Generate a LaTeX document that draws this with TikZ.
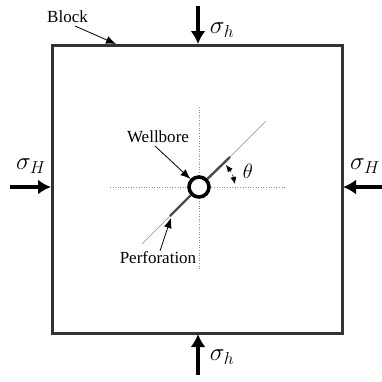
\documentclass[tikz,border=0pt]{standalone}
\usepackage{fontspec}
\setmainfont{Liberation Serif}
\usetikzlibrary{arrows.meta}

\begin{document}
\begin{tikzpicture}[x=1pt,y=-1pt,>=Latex,
 blockbox/.style={draw=black!80,line width=3pt,minimum width=290pt,minimum height=288pt,inner sep=0pt},
 bore/.style={circle,draw=black,line width=3.6pt,minimum size=20pt,inner sep=0pt},
 load/.style={-{Latex[length=13pt,width=15pt]},line width=3.4pt},
 pointer/.style={-{Latex[length=10pt,width=8pt]},line width=.8pt},
 perf/.style={draw=black!70,line width=2.4pt},
 slot/.style={draw=black!45,line width=.5pt},
 axis/.style={draw=black!45,line width=.6pt,dotted},
 lbl/.style={font=\fontsize{17}{19}\selectfont,inner sep=0pt},
 stress/.style={font=\fontsize{25}{28}\selectfont,inner sep=0pt}]
\useasboundingbox (0,0) rectangle (382,381);
\node[blockbox] (block) at (197,189) {};
\coordinate (axisL) at (110,187);
\coordinate (axisR) at (286,187);
\coordinate (axisT) at (199,107);
\coordinate (axisB) at (199,270);
\draw[axis] (axisL)--(axisR);
\draw[axis] (axisT)--(axisB);
\coordinate (slotT) at (266,121);
\coordinate (perfT) at (230,157);
\coordinate (perfB) at (170,216);
\coordinate (slotB) at (142,244);
\draw[slot] (perfT)--(slotT);
\draw[slot] (perfB)--(slotB);
\node[bore,fill=white] (well) at (199,187) {};
\draw[perf] (well)--(perfT);
\draw[perf] (well)--(perfB);

\node[lbl] (blockL) at (67.5,17) {Block};
\coordinate (blockP) at (116,44);
\draw[pointer] (75,26)--(blockP);
\node[lbl] (wellL) at (158,137) {Wellbore};
\draw[pointer] (155,146)--(well);
\node[lbl] (perfL) at (158,258) {Perforation};
\coordinate (perfP) at (171,218);
\draw[pointer] (perfL.north)++(2,-1)--(perfP);

\coordinate (angA) at (235,184);
\coordinate (angB) at (226,165);
\draw[{Latex[length=7pt,width=6pt]}-{Latex[length=7pt,width=6pt]},line width=.6pt,dashed] (angA) to[bend right=12] (angB);
\node[stress,font=\fontsize{20}{22}\selectfont] (thetaL) at (248,171) {$\theta$};

\coordinate (topA) at (198,6);
\coordinate (topB) at (198,44);
\coordinate (botA) at (198,375);
\coordinate (botB) at (198,334);
\coordinate (lftA) at (10,187);
\coordinate (lftB) at (51,187);
\coordinate (rgtA) at (382,187);
\coordinate (rgtB) at (343,187);
\draw[load] (topA)--(topB);
\draw[load] (botA)--(botB);
\draw[load] (lftA)--(lftB);
\draw[load] (rgtA)--(rgtB);
\node[stress] (sigT) at (222,30) {$\sigma_h$};
\node[stress] (sigB) at (222,357) {$\sigma_h$};
\node[stress] (sigL) at (31,166) {$\sigma_H$};
\node[stress] (sigR) at (365,166) {$\sigma_H$};
\end{tikzpicture}
\end{document}
